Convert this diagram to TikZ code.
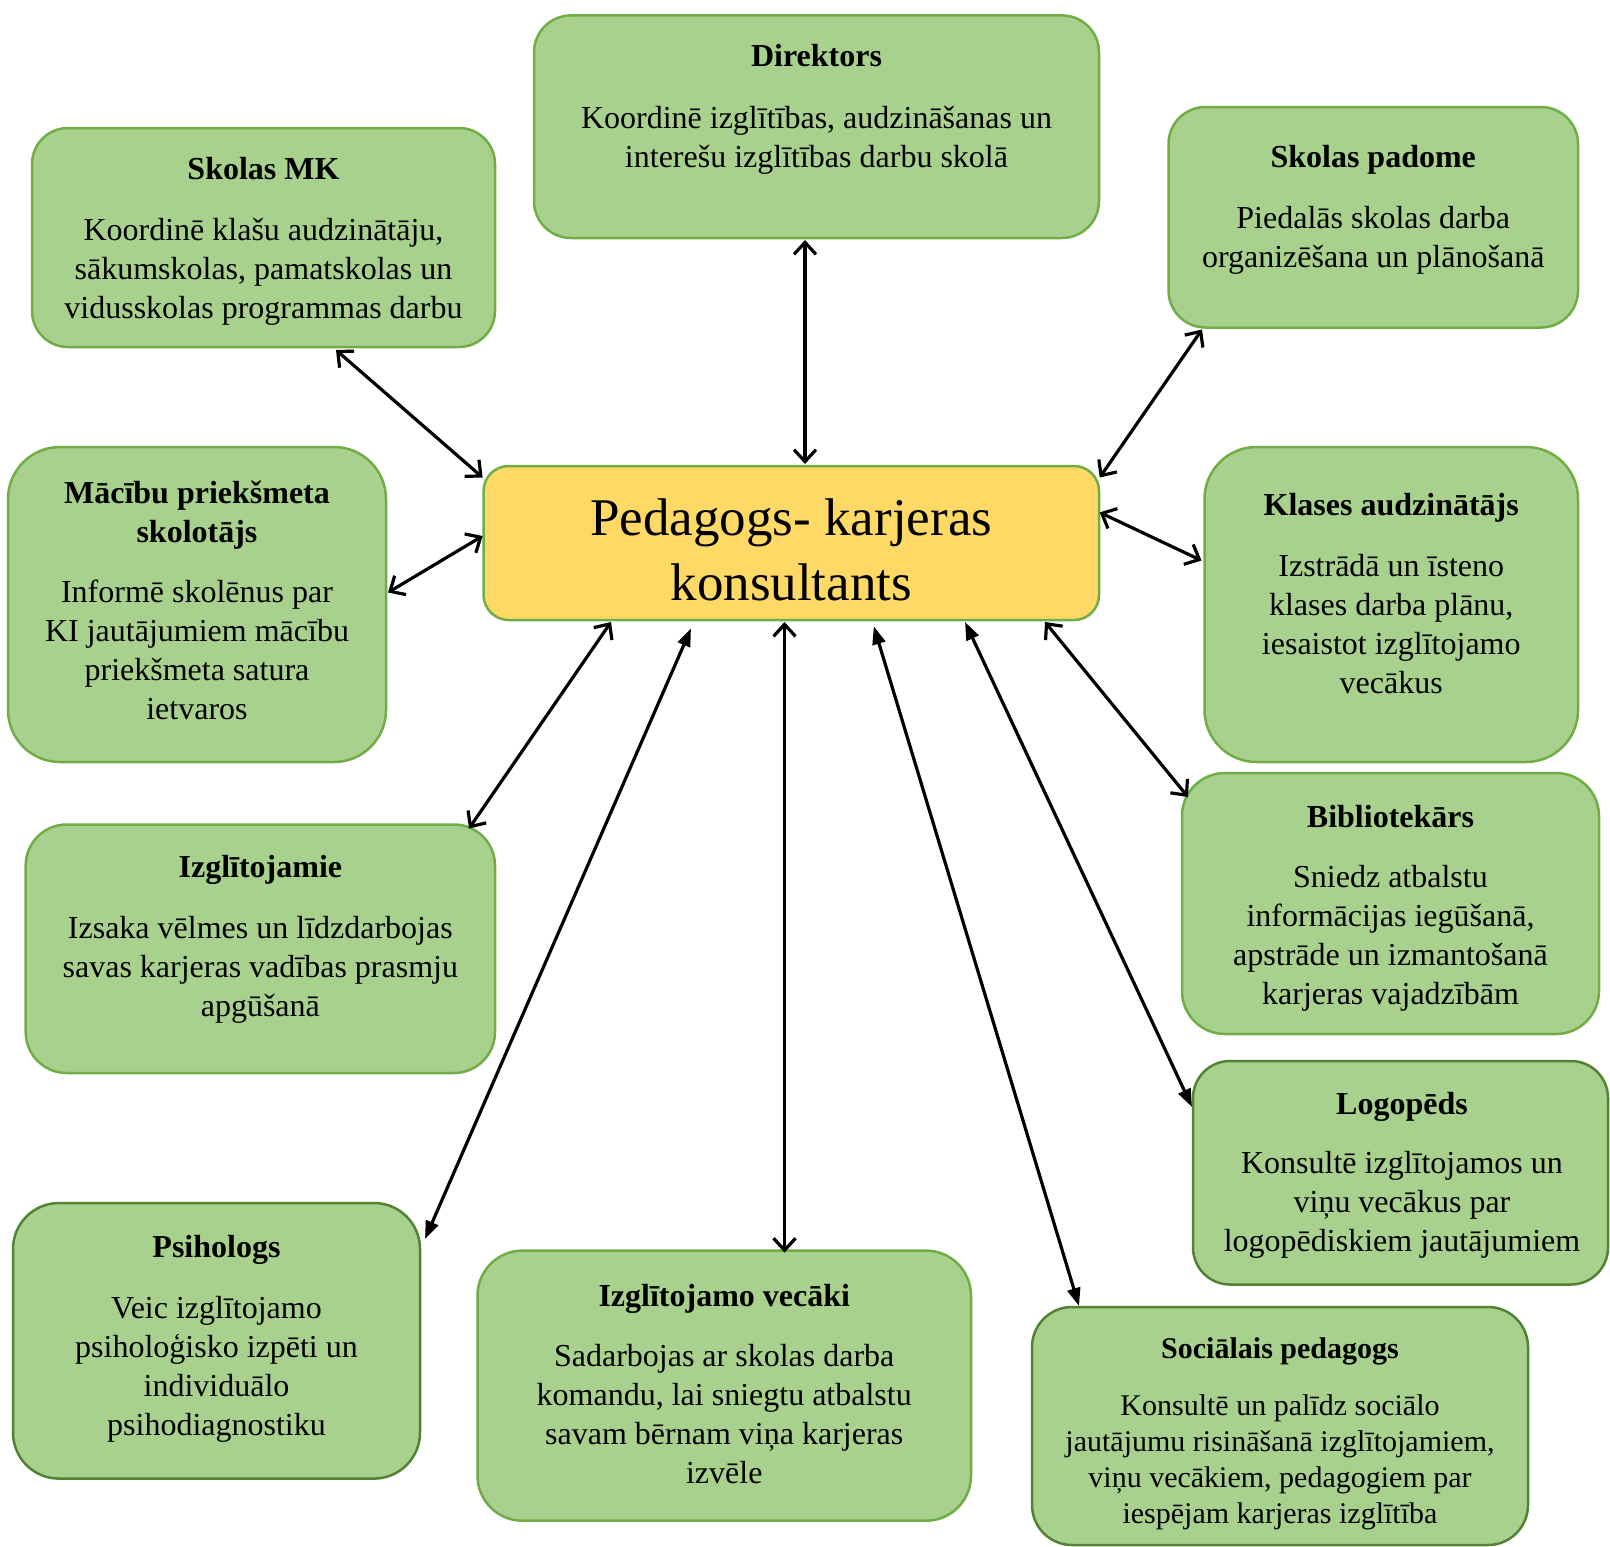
\documentclass[tikz,border=0pt]{standalone}
\usepackage{fontspec}
\setmainfont{Liberation Serif}
\usetikzlibrary{arrows.meta,calc}
\definecolor{boxfill}{HTML}{A9D18E}
\definecolor{boxline}{HTML}{70AD47}
\definecolor{boxdark}{HTML}{548235}
\definecolor{ctrfill}{HTML}{FFD966}
\begin{document}
\begin{tikzpicture}[x=1pt,y=-1pt,
  card/.style={draw=boxline, fill=boxfill, line width=2.5pt, rectangle, rounded corners=#1, inner sep=0pt, outer sep=0pt},
  darkcard/.style={card=#1, draw=boxdark},
  ctrcard/.style={card=#1, fill=ctrfill},
  ttl/.style={font=\fontsize{32}{39}\selectfont\bfseries, anchor=base, inner sep=0pt, align=center},
  txt/.style={font=\fontsize{32}{39}\selectfont, anchor=base, inner sep=0pt, align=center},
  ttlsm/.style={font=\fontsize{30}{36}\selectfont\bfseries, anchor=base, inner sep=0pt, align=center},
  txtsm/.style={font=\fontsize{30}{36}\selectfont, anchor=base, inner sep=0pt, align=center},
  ctrtxt/.style={font=\fontsize{53}{65}\selectfont, anchor=base, inner sep=0pt, align=center},
  bar/.style={line width=3.2pt, {Straight Barb[length=12pt,width=22pt]}-{Straight Barb[length=12pt,width=22pt]}},
  tri/.style={line width=3.2pt, {Triangle[length=18pt,width=13pt]}-{Triangle[length=18pt,width=13pt]}}
]
\useasboundingbox (0,0) rectangle (1610,1547);

% boxes
\node[card=37pt, minimum width=565pt, minimum height=222.6pt] (dir) at (816.5,126.7) {};
\node[card=36pt, minimum width=463pt, minimum height=219pt] (skmk) at (263.5,237.5) {};
\node[card=37pt, minimum width=409.5pt, minimum height=220.5pt] (pad) at (1373.25,217.25) {};
\node[card=52pt, minimum width=378pt, minimum height=315pt] (mac) at (197,604.5) {};
\node[ctrcard=25pt, minimum width=615.4pt, minimum height=154pt] (ctr) at (791.3,543) {};
\node[card=52pt, minimum width=373.5pt, minimum height=315pt] (kla) at (1391.25,604.5) {};
\node[card=41pt, minimum width=469.3pt, minimum height=248.5pt] (izg) at (260.35,948.75) {};
\node[card=43pt, minimum width=417pt, minimum height=261pt] (bib) at (1390.5,903.5) {};
\node[darkcard=37pt, minimum width=415pt, minimum height=223.5pt] (log) at (1400.5,1172.75) {};
\node[darkcard=46pt, minimum width=407pt, minimum height=275.6pt] (psi) at (216.5,1340.8) {};
\node[card=45pt, minimum width=493.5pt, minimum height=270.1pt] (vec) at (724.25,1385.65) {};
\node[darkcard=40pt, minimum width=496pt, minimum height=238pt] (soc) at (1280,1426) {};

% texts (multi-line nodes: base = last line)
\node[ttl] (dir-t) at (816.5,66.5) {Direktors};
\node[txt] (dir-b) at (816.5,167) {Koordinē izglītības, audzināšanas un\\interešu izglītības darbu skolā};

\node[ttl] (skmk-t) at (263.5,179) {Skolas MK};
\node[txt] (skmk-b) at (263.5,318) {Koordinē klašu audzinātāju,\\sākumskolas, pamatskolas un\\vidusskolas programmas darbu};

\node[ttl] (pad-t) at (1373.25,167) {Skolas padome};
\node[txt] (pad-b) at (1373.25,267) {Piedalās skolas darba\\organizēšana un plānošanā};

\node[ttl] (mac-t) at (197,542) {Mācību priekšmeta\\skolotājs};
\node[txt] (mac-b) at (197,719) {Informē skolēnus par\\KI jautājumiem mācību\\priekšmeta satura\\ietvaros};

\node[ctrtxt] (ctr-t) at (791.3,600) {Pedagogs- karjeras\\konsultants};

\node[ttl] (kla-t) at (1391.25,515) {Klases audzinātājs};
\node[txt] (kla-b) at (1391.25,693) {Izstrādā un īsteno\\klases darba plānu,\\iesaistot izglītojamo\\vecākus};

\node[ttl] (izg-t) at (260.35,877.6) {Izglītojamie};
\node[txt] (izg-b) at (260.35,1016) {Izsaka vēlmes un līdzdarbojas\\savas karjeras vadības prasmju\\apgūšanā};

\node[ttl] (bib-t) at (1390.5,827) {Bibliotekārs};
\node[txt] (bib-b) at (1390.5,1004) {Sniedz atbalstu\\informācijas iegūšanā,\\apstrāde un izmantošanā\\karjeras vajadzībām};

\node[ttl] (log-t) at (1402,1114) {Logopēds};
\node[txt] (log-b) at (1402,1251) {Konsultē izglītojamos un\\viņu vecākus par\\logopēdiskiem jautājumiem};

\node[ttl] (psi-t) at (216.5,1257.6) {Psihologs};
\node[txt] (psi-b) at (216.5,1435) {Veic izglītojamo\\psiholoģisko izpēti un\\individuālo\\psihodiagnostiku};

\node[ttl] (vec-t) at (724.25,1306) {Izglītojamo vecāki};
\node[txt] (vec-b) at (724.25,1483) {Sadarbojas ar skolas darba\\komandu, lai sniegtu atbalstu\\savam bērnam viņa karjeras\\izvēle};

\node[ttlsm] (soc-t) at (1280,1358) {Sociālais pedagogs};
\node[txtsm] (soc-b) at (1280,1523) {Konsultē un palīdz sociālo\\jautājumu risināšanā izglītojamiem,\\viņu vecākiem, pedagogiem par\\iespējam karjeras izglītība};

% connectors
\draw[bar] ($(skmk.south)+(72.5,3)$) -- ($(ctr.north west)+(-1,11.5)$);
\draw[bar] ($(dir.south)+(-11.5,2)$) -- ($(ctr.north)+(13.7,-2)$);
\draw[bar] ($(pad.south west)+(33.5,2)$) -- ($(ctr.north east)+(0.7,11.5)$);
\draw[bar] ($(mac.east)+(2,-12)$) -- ($(ctr.west)+(-1,-7)$);
\draw[bar] ($(kla.west)+(-3,-44)$) -- ($(ctr.east)+(0.7,-30.6)$);
\draw[bar] ($(izg.north east)+(-26,4)$) -- ($(ctr.south west)+(127.4,2)$);
\draw[tri] ($(psi.north east)+(5,36)$) -- ($(ctr.south west)+(207.4,8.4)$);
\draw[bar] ($(vec.north)+(60.25,2)$) -- ($(ctr.south)+(-6.8,2)$);
\draw[tri] ($(soc.north west)+(47,-1)$) -- ($(ctr.south)+(82.5,6.3)$);
\draw[tri] ($(log.north west)+(-1,46)$) -- ($(ctr.south)+(173.7,2)$);
\draw[bar] ($(bib.north west)+(6,24)$) -- ($(ctr.south east)+(-54,2)$);
\end{tikzpicture}
\end{document}
